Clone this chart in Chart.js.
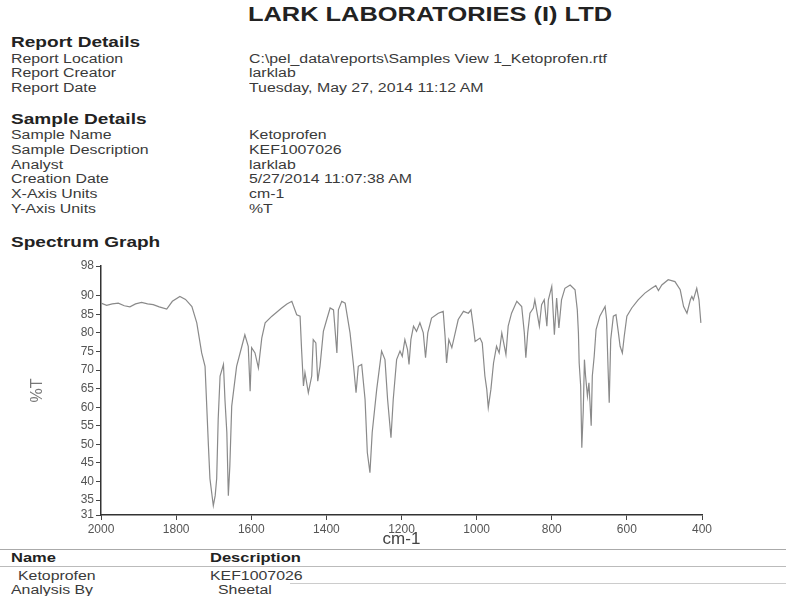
<!DOCTYPE html>
<html>
<head>
<meta charset="utf-8">
<script src="https://cdn.jsdelivr.net/npm/chart.js@4.4.0/dist/chart.umd.min.js"></script>
<style>
  html, body { margin: 0; padding: 0; background: #fff; }
  body { width: 786px; height: 596px; position: relative; overflow: hidden; font-family: "Liberation Sans", Arial, sans-serif; color: #333; }
  .t { position: absolute; white-space: nowrap; line-height: 1; transform: scaleX(1.27); transform-origin: 0 0; }
  .h { font-weight: bold; font-size: 15px; color: #222; }
  .r { font-size: 12.5px; color: #3a3a3a; }
  .line { position: absolute; height: 1px; background: #999; }
  #wrap { position: absolute; left: 0; top: 250px; width: 786px; height: 300px; }
</style>
</head>
<body>
<div class="t" style="left:248px;top:4px;font-size:20px;font-weight:bold;color:#222;">LARK LABORATORIES (I) LTD</div>

<div class="t h" style="left:11px;top:34px;">Report Details</div>
<div class="t r" style="left:11px;top:53px;">Report Location</div>
<div class="t r" style="left:249px;top:53px;">C:\pel_data\reports\Samples View 1_Ketoprofen.rtf</div>
<div class="t r" style="left:11px;top:67px;">Report Creator</div>
<div class="t r" style="left:249px;top:67px;">larklab</div>
<div class="t r" style="left:11px;top:82px;">Report Date</div>
<div class="t r" style="left:249px;top:82px;">Tuesday, May 27, 2014 11:12 AM</div>

<div class="t h" style="left:11px;top:111px;">Sample Details</div>
<div class="t r" style="left:11px;top:129px;">Sample Name</div>
<div class="t r" style="left:249px;top:129px;">Ketoprofen</div>
<div class="t r" style="left:11px;top:144px;">Sample Description</div>
<div class="t r" style="left:249px;top:144px;">KEF1007026</div>
<div class="t r" style="left:11px;top:159px;">Analyst</div>
<div class="t r" style="left:249px;top:159px;">larklab</div>
<div class="t r" style="left:11px;top:173px;">Creation Date</div>
<div class="t r" style="left:249px;top:173px;">5/27/2014 11:07:38 AM</div>
<div class="t r" style="left:11px;top:188px;">X-Axis Units</div>
<div class="t r" style="left:249px;top:188px;">cm-1</div>
<div class="t r" style="left:11px;top:203px;">Y-Axis Units</div>
<div class="t r" style="left:249px;top:203px;">%T</div>

<div class="t h" style="left:11px;top:234px;">Spectrum Graph</div>

<div id="wrap"><canvas id="c" width="786" height="300"></canvas></div>

<div class="line" style="left:0;top:549px;width:786px;background:#aaa;"></div>
<div class="t" style="left:11px;top:551px;font-size:13px;font-weight:bold;color:#222;">Name</div>
<div class="t" style="left:210px;top:551px;font-size:13px;font-weight:bold;color:#222;">Description</div>
<div class="line" style="left:0;top:566px;width:786px;background:#bbb;"></div>
<div class="t r" style="left:18px;top:570px;">Ketoprofen</div>
<div class="t r" style="left:210px;top:570px;">KEF1007026</div>
<div class="line" style="left:290px;top:583px;width:496px;background:#ccc;"></div>
<div class="t r" style="left:11px;top:584px;">Analysis By</div>
<div class="t r" style="left:218px;top:584px;">Sheetal</div>

<script>
// Wavenumber (cm-1), descending
const wavenumbers = [2000,1985,1970,1954,1938,1923,1908,1892,1876,1861,1845,1825,1810,1790,1775,1758,1745,1732,1723,1714,1710,1701,1696,1692,1688,1683,1674,1670,1665,1661,1657,1652,1639,1625,1617,1608,1603,1599,1590,1581,1572,1563,1545,1519,1505,1492,1479,1470,1466,1461,1457,1448,1439,1435,1428,1423,1417,1408,1399,1390,1381,1372,1368,1359,1350,1337,1328,1321,1315,1306,1297,1291,1284,1278,1266,1253,1244,1237,1228,1222,1213,1204,1198,1191,1184,1180,1175,1168,1160,1151,1142,1136,1130,1120,1102,1089,1084,1080,1074,1066,1059,1049,1035,1022,1015,1009,1004,991,985,978,973,969,962,955,947,940,933,922,916,907,893,880,873,869,864,858,849,845,833,827,820,813,809,800,793,787,781,774,765,751,738,732,729,727,723,720,716,713,710,705,701,695,692,687,682,672,658,654,650,647,643,636,629,623,618,612,607,600,587,570,552,534,523,516,507,490,472,458,449,440,431,427,423,414,408,403];
// Transmittance (%T)
const transmittance = [88.0,87.4,87.8,88.0,87.3,87.0,87.8,88.2,87.8,87.6,87.0,86.4,88.5,89.8,89.0,87.1,82.7,74.6,71.0,49.6,40.8,33.5,36.2,40.8,56.8,68.4,71.5,62.0,53.2,36.2,44.2,60.3,71.0,76.4,79.5,76.4,64.3,76.0,74.6,70.6,78.6,82.7,84.5,86.7,87.8,88.5,84.9,84.5,75.5,65.7,69.3,63.9,68.4,78.2,77.3,67.0,71.0,80.4,83.6,86.7,86.2,74.6,86.2,88.5,88.0,80.0,71.5,63.9,71.0,71.5,62.1,47.8,42.4,53.2,64.8,75.1,72.8,62.1,51.8,62.1,72.8,75.1,73.7,78.2,75.5,71.5,78.2,81.8,80.4,82.7,80.0,73.3,80.0,84.0,85.3,85.8,79.1,71.9,78.2,76.0,79.1,83.6,85.8,85.3,86.2,81.8,77.7,78.6,77.3,68.4,64.8,59.9,64.8,71.9,76.4,74.6,80.0,74.2,81.8,85.3,88.5,87.1,80.0,73.3,80.0,85.3,86.7,88.9,81.8,87.6,88.9,81.8,88.9,92.5,79.5,89.4,81.3,88.9,92.0,92.9,91.6,86.2,80.0,71.9,65.7,49.1,59.4,72.8,68.4,63.0,66.6,55.0,68.4,73.7,80.9,84.5,87.1,83.6,70.2,61.2,78.2,84.5,84.9,80.4,76.4,74.6,79.1,84.5,86.7,88.9,90.7,92.0,92.7,91.4,92.9,94.3,93.8,91.6,87.1,85.3,88.9,89.8,88.9,92.0,88.9,82.7];
const yTickValues = [98,90,85,80,75,70,65,60,55,50,45,40,35,31];
const xTickValues = [2000,1800,1600,1400,1200,1000,800,600,400];

const points = wavenumbers.map((w, i) => ({ x: w, y: transmittance[i] }));
const tickFont = { family: "Liberation Sans", size: 12 };

new Chart(document.getElementById('c'), {
  type: 'scatter',
  data: {
    datasets: [{
      data: points,
      showLine: true,
      borderColor: '#8a8a8a',
      borderWidth: 1.2,
      pointRadius: 0,
      tension: 0
    }]
  },
  options: {
    responsive: false,
    animation: false,
    layout: { padding: { left: 26, right: 84, top: 16, bottom: 0 } },
    plugins: { legend: { display: false }, tooltip: { enabled: false } },
    scales: {
      x: {
        type: 'linear',
        reverse: true,
        min: 400,
        max: 2000,
        afterFit: (s) => { s.height = 35; },
        afterBuildTicks: (s) => { s.ticks = xTickValues.map(v => ({ value: v })); },
        ticks: { color: '#555', font: tickFont, padding: 2, maxRotation: 0, autoSkip: false, callback: (v) => String(v) },
        grid: { display: true, drawOnChartArea: false, drawTicks: true, tickLength: 5, color: '#444' },
        border: { display: true, color: '#333', width: 1.5 },
        title: { display: true, text: 'cm-1', color: '#444', font: { family: "Liberation Sans", size: 17 }, padding: { top: 0, bottom: 0 } }
      },
      y: {
        type: 'linear',
        min: 31,
        max: 98,
        afterFit: (s) => { s.width = 75; },
        afterBuildTicks: (s) => { s.ticks = yTickValues.map(v => ({ value: v })); },
        ticks: { color: '#555', font: tickFont, padding: 2, autoSkip: false, callback: (v) => String(v) },
        grid: { display: true, drawOnChartArea: false, drawTicks: true, tickLength: 5, color: '#444' },
        border: { display: true, color: '#333', width: 1.5 },
        title: { display: true, text: '%T', color: '#777', font: { family: "Liberation Sans", size: 16 }, padding: { top: 2, bottom: 0 } }
      }
    }
  }
});
</script>
</body>
</html>
